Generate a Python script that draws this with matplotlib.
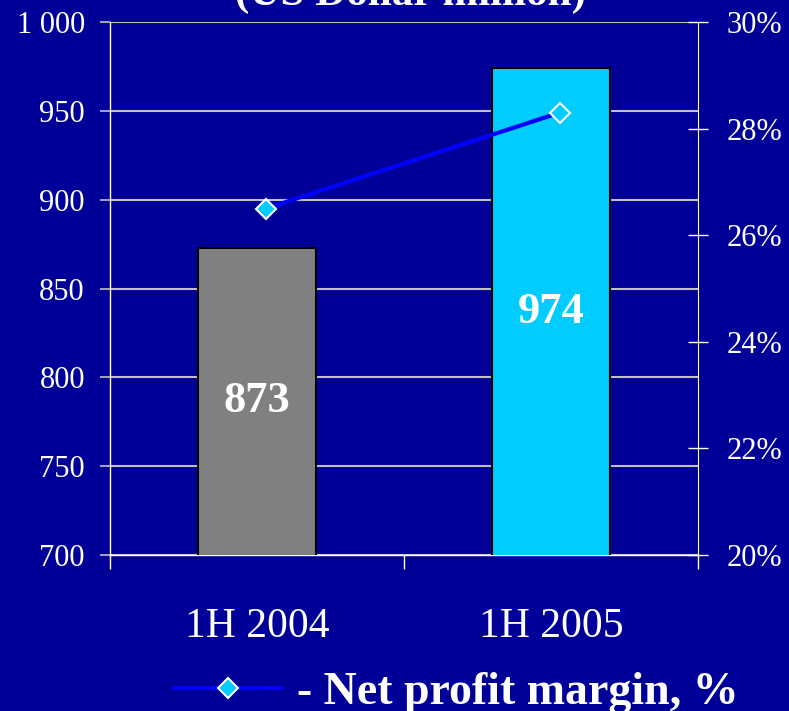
import matplotlib
matplotlib.use("Agg")
import matplotlib.pyplot as plt
from matplotlib.lines import Line2D
from matplotlib.ticker import FuncFormatter, MultipleLocator

categories = ["1H 2004", "1H 2005"]
revenue = [873, 974]
margin = [26.5, 28.3]
title = "(US Dollar million)"
legend_label = "- Net profit margin, %"

BG = "#000099"
plt.rcParams["font.family"] = ["Liberation Serif", "DejaVu Serif"]

fig = plt.figure(figsize=(7.89, 7.11), dpi=100, facecolor=BG)
ax = fig.add_axes([110/789, 1-555/711, (698-110)/789, (555-22)/711])
ax.set_facecolor(BG)

x = list(range(len(categories)))
bars = ax.bar(x, revenue, width=0.4, color=["#808080", "#00CCFF"],
              edgecolor="black", linewidth=1.5, zorder=3)
ax.bar_label(bars, labels=[str(v) for v in revenue], label_type="center",
             color="white", fontsize=32, fontweight="bold")

ax.set_xlim(-0.5, 1.5)
ax.set_ylim(700, 1000)
ax.yaxis.set_major_locator(MultipleLocator(50))
ax.yaxis.set_major_formatter(FuncFormatter(lambda v, p: f"{int(v):,}".replace(",", " ")))
ax.grid(axis="y", color="#C0C0C0", linewidth=1.5, zorder=0)
ax.set_axisbelow(True)
ax.tick_params(axis="y", colors="#C0C0C0", length=7, width=1.2, labelcolor="white",
               labelsize=22, pad=11)

ax.set_xticks([-0.5, 0.5, 1.5])
ax.set_xticklabels([])
ax.set_xticks(x, minor=True)
ax.set_xticklabels(categories, minor=True)
ax.tick_params(axis="x", which="major", colors="white", length=10, width=1, direction="out")
ax.tick_params(axis="x", which="minor", length=0, labelcolor="white", labelsize=30, pad=38)

for s in ["left", "bottom"]:
    ax.spines[s].set_color("white")
    ax.spines[s].set_linewidth(1)
ax.spines["top"].set_visible(False)
ax.spines["right"].set_visible(False)

ax2 = ax.twinx()
ax2.set_ylim(20, 30)
ax2.yaxis.set_major_locator(MultipleLocator(2))
ax2.yaxis.set_major_formatter(FuncFormatter(lambda v, p: f"{int(round(v))}%"))
ax2.tick_params(axis="y", colors="white", length=15, width=1, direction="inout",
                labelcolor="white", labelsize=22, pad=13)
ax2.spines["right"].set_color("white")
for s in ["left", "top", "bottom"]:
    ax2.spines[s].set_visible(False)
ax2.plot([xi + 0.03 for xi in x], margin, color="#0000FF", linewidth=3,
         marker="D", markersize=10, markerfacecolor="#00CCFF",
         markeredgecolor="white", markeredgewidth=1.5, zorder=5)

fig.text(0.52, 1 - 5/711, title, ha="center", va="baseline", color="white",
         fontsize=31, fontweight="bold")

handle = Line2D([], [], color="#0000FF", linewidth=3, marker="D", markersize=10,
                markerfacecolor="#00CCFF", markeredgecolor="white", markeredgewidth=1.5)
leg = fig.legend([handle], [legend_label], loc="center", bbox_to_anchor=(457/789, 1-693/711),
                 frameon=False, handlelength=2.3, handletextpad=0.35,
                 prop={"size": 33, "weight": "bold"})
for t in leg.get_texts():
    t.set_color("white")

fig.savefig("out.png", dpi=100, facecolor=BG)
